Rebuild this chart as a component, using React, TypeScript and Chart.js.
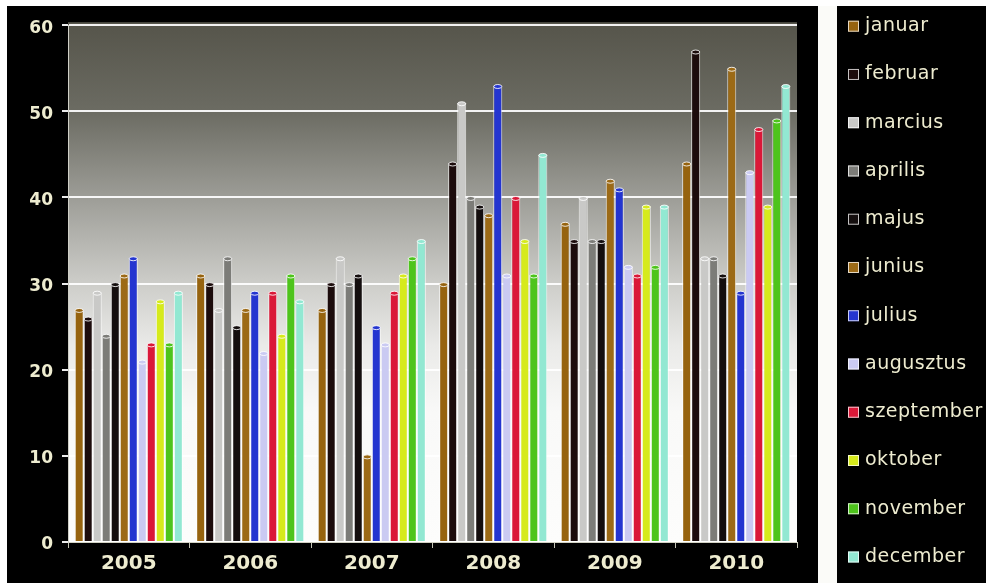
import React, { useEffect, useRef } from "react";
import { Chart, registerables } from "chart.js";

Chart.register(...registerables);

// Categories and series: monthly values per year
const years = ["2005", "2006", "2007", "2008", "2009", "2010"];
const months = [
  "januar", "februar", "marcius", "aprilis", "majus", "junius",
  "julius", "augusztus", "szeptember", "oktober", "november", "december",
];
const januar = [27, 31, 27, 30, 37, 44];
const februar = [26, 30, 30, 44, 35, 57];
const marcius = [29, 27, 33, 51, 40, 33];
const aprilis = [24, 33, 30, 40, 35, 33];
const majus = [30, 25, 31, 39, 35, 31];
const junius = [31, 27, 10, 38, 42, 55];
const julius = [33, 29, 25, 53, 41, 29];
const augusztus = [21, 22, 23, 31, 32, 43];
const szeptember = [23, 29, 29, 40, 31, 48];
const oktober = [28, 24, 31, 35, 39, 39];
const november = [23, 31, 33, 31, 32, 49];
const december = [29, 28, 35, 45, 39, 53];
const yMin = 0;
const yMax = 60;
const yStep = 10;

const seriesValues = [
  januar, februar, marcius, aprilis, majus, junius,
  julius, augusztus, szeptember, oktober, november, december,
];
const seriesColors = [
  "#96630f", "#1c0c0c", "#c9c9c7", "#7c7c78", "#140e0e", "#9c6a16",
  "#2435d0", "#cacaf2", "#da1838", "#d6ea1c", "#4ec41c", "#92e8d2",
];

const CREAM = "#eeecd0";

// Paints the black frame, the shaded plot background and the white divider
const backdrop = {
  id: "backdrop",
  beforeDraw(chart: any) {
    const { ctx, width, height, chartArea: a } = chart;
    ctx.save();
    ctx.fillStyle = "#000";
    ctx.fillRect(0, 0, width, height);
    const g = ctx.createLinearGradient(0, a.top, 0, a.bottom);
    g.addColorStop(0, "#56554b");
    g.addColorStop(0.17, "#6c6c63");
    g.addColorStop(0.33, "#9c9c96");
    g.addColorStop(0.5, "#cdcdc9");
    g.addColorStop(0.62, "#eaeae8");
    g.addColorStop(0.75, "#f9f9f8");
    g.addColorStop(1, "#fdfdfc");
    ctx.fillStyle = g;
    ctx.fillRect(a.left, a.top - 3, a.right - a.left, a.bottom - a.top + 3);
    ctx.fillStyle = "#fbfbf8";
    ctx.fillRect(a.right + 21, 0, 19, height);
    ctx.restore();
  },
};

// Rounded caps on the top of each bar
const barCaps = {
  id: "barCaps",
  afterDatasetsDraw(chart: any) {
    const { ctx } = chart;
    ctx.save();
    chart.data.datasets.forEach((ds: any, i: number) => {
      const meta = chart.getDatasetMeta(i);
      meta.data.forEach((bar: any) => {
        const w = bar.width / 2;
        ctx.beginPath();
        ctx.ellipse(bar.x, bar.y + 1, Math.max(w - 0.5, 1), 2, 0, 0, Math.PI * 2);
        ctx.fillStyle = ds.backgroundColor;
        ctx.fill();
        ctx.lineWidth = 1;
        ctx.strokeStyle = "rgba(255,255,255,0.85)";
        ctx.stroke();
      });
    });
    ctx.restore();
  },
};

// Month key drawn to the right of the divider
const monthKey = {
  id: "monthKey",
  afterDraw(chart: any) {
    const { ctx, chartArea: a } = chart;
    const first = a.top + 1;
    const pitch = (a.bottom + 14 - a.top) / 11;
    ctx.save();
    ctx.font = "19px 'DejaVu Sans'";
    ctx.letterSpacing = "0.5px";
    ctx.textBaseline = "middle";
    ctx.textAlign = "left";
    chart.data.datasets.forEach((ds: any, i: number) => {
      const y = first + i * pitch;
      const x = a.right + 51;
      ctx.fillStyle = ds.backgroundColor;
      ctx.fillRect(x, y - 5.5, 11, 11);
      ctx.lineWidth = 1;
      ctx.strokeStyle = "rgba(255,255,255,0.75)";
      ctx.strokeRect(x + 0.5, y - 5, 10, 10);
      ctx.fillStyle = CREAM;
      ctx.fillText(ds.label, x + 17, y);
    });
    ctx.restore();
  },
};

export default function App() {
  const canvasRef = useRef<HTMLCanvasElement>(null);

  useEffect(() => {
    const canvas = canvasRef.current;
    if (!canvas) return;
    const chart = new Chart(canvas, {
      type: "bar",
      data: {
        labels: years,
        datasets: months.map((m, i) => ({
          label: m,
          data: seriesValues[i],
          backgroundColor: seriesColors[i],
          borderColor: "rgba(255,255,255,0.8)",
          borderWidth: 1,
          categoryPercentage: 0.89,
          barPercentage: 1,
        })),
      },
      options: {
        responsive: true,
        maintainAspectRatio: false,
        animation: false,
        layout: { padding: { top: 18, right: 189, left: 0, bottom: 0 } },
        plugins: {
          legend: { display: false },
          tooltip: { enabled: false },
        },
        scales: {
          x: {
            afterFit: (scale: any) => {
              scale.height = 41;
            },
            grid: {
              offset: true,
              drawOnChartArea: false,
              drawTicks: true,
              tickLength: 6,
              color: "#c4c4b6",
            },
            border: { color: "#d2d2c4", width: 1 },
            ticks: {
              color: CREAM,
              padding: 4,
              font: { family: "'DejaVu Sans'", size: 20, weight: "bold" },
            },
          },
          y: {
            min: yMin,
            max: yMax,
            afterFit: (scale: any) => {
              scale.width = 61;
            },
            grid: {
              color: "rgba(255,255,255,0.92)",
              lineWidth: 2,
              tickLength: 6,
            },
            border: { color: "#cfcfc6", width: 1 },
            ticks: {
              stepSize: yStep,
              color: CREAM,
              padding: 9,
              labelOffset: 3,
              font: { family: "'DejaVu Sans'", size: 17, weight: "bold" },
            },
          },
        },
      },
      plugins: [backdrop, barCaps, monthKey],
    });
    return () => chart.destroy();
  }, []);

  return (
    <div
      style={{
        position: "fixed",
        left: 7,
        top: 6,
        width: 979,
        height: 577,
        background: "#000",
      }}
    >
      <canvas ref={canvasRef} />
    </div>
  );
}
